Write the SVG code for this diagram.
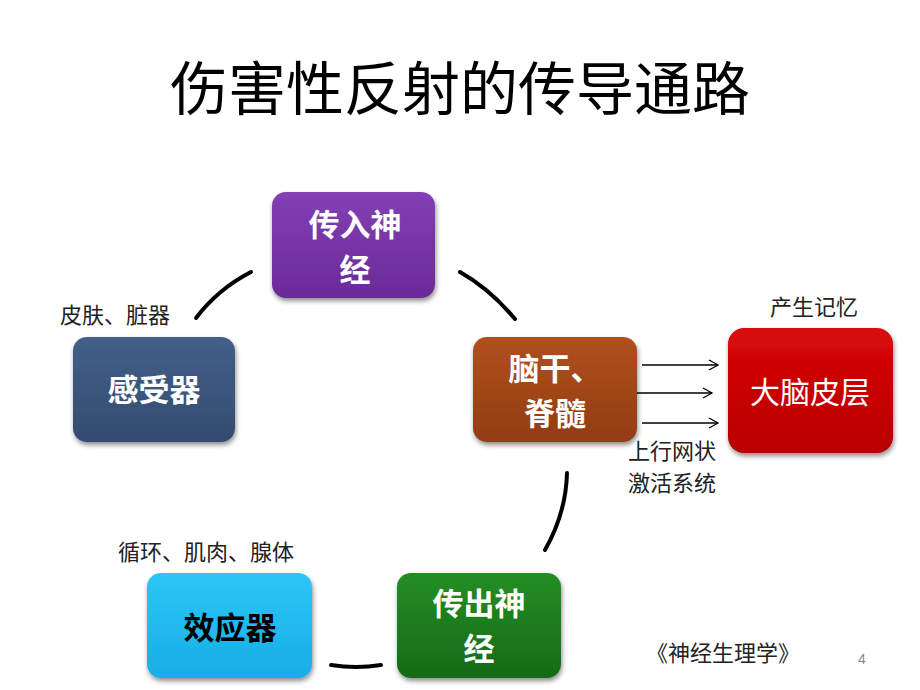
<svg xmlns="http://www.w3.org/2000/svg" width="920" height="690" viewBox="0 0 920 690">
  <defs>
    <style>
      .node-text { font-family: "Noto Sans CJK SC", "Liberation Sans", sans-serif; font-weight: bold; font-size: 31px; text-anchor: middle; fill: #ffffff; }
      .label { font-family: "Noto Sans CJK SC", "Liberation Serif", serif; font-size: 22px; fill: #222222; }
      .arc { fill: none; stroke: #000000; stroke-width: 4; stroke-linecap: round; }
      .arrow { fill: none; stroke: #000000; stroke-width: 1.3; }
      .box { filter: url(#shadow); }
    </style>
    <filter id="shadow" x="-10%" y="-10%" width="125%" height="130%">
      <feGaussianBlur in="SourceAlpha" stdDeviation="2.5"/>
      <feOffset dx="1" dy="3" result="b"/>
      <feComponentTransfer><feFuncA type="linear" slope="0.45"/></feComponentTransfer>
      <feMerge><feMergeNode/><feMergeNode in="SourceGraphic"/></feMerge>
    </filter>
    <linearGradient id="gPurple" x1="0" y1="0" x2="0" y2="1">
      <stop offset="0" stop-color="#8240B4"/><stop offset="1" stop-color="#6A2A98"/>
    </linearGradient>
    <linearGradient id="gBlue" x1="0" y1="0" x2="0" y2="1">
      <stop offset="0" stop-color="#43608A"/><stop offset="1" stop-color="#344B6E"/>
    </linearGradient>
    <linearGradient id="gBrown" x1="0" y1="0" x2="0" y2="1">
      <stop offset="0" stop-color="#B0501E"/><stop offset="1" stop-color="#923C12"/>
    </linearGradient>
    <linearGradient id="gRed" x1="0" y1="0" x2="0" y2="1">
      <stop offset="0" stop-color="#D80808"/><stop offset="1" stop-color="#B80000"/>
    </linearGradient>
    <linearGradient id="gCyan" x1="0" y1="0" x2="0" y2="1">
      <stop offset="0" stop-color="#2CC6F7"/><stop offset="1" stop-color="#18AEE6"/>
    </linearGradient>
    <linearGradient id="gGreen" x1="0" y1="0" x2="0" y2="1">
      <stop offset="0" stop-color="#248E24"/><stop offset="1" stop-color="#176A17"/>
    </linearGradient>
    <marker id="chev" markerWidth="12" markerHeight="12" refX="10" refY="6" orient="auto" markerUnits="userSpaceOnUse">
      <path d="M1,1 L10,6 L1,11" fill="none" stroke="#000" stroke-width="1.3"/>
    </marker>
  </defs>

  <rect width="920" height="690" fill="#ffffff"/>

  <text x="460" y="110" font-family="Noto Sans CJK SC, sans-serif" font-size="58" text-anchor="middle" fill="#000">伤害性反射的传导通路</text>

  <g id="connectors">
    <path class="arc" d="M196,318 Q218,289 251,272"/>
    <path class="arc" d="M460,272 Q490,289 515,319"/>
    <path class="arc" d="M567,473 Q566,513 545,550"/>
    <path class="arc" d="M331,665 Q356,669 381,665"/>
    <line class="arrow" x1="642" y1="365" x2="718" y2="365" marker-end="url(#chev)"/>
    <line class="arrow" x1="637" y1="393" x2="712" y2="393" marker-end="url(#chev)"/>
    <line class="arrow" x1="642" y1="423" x2="718" y2="423" marker-end="url(#chev)"/>
  </g>

  <g id="node-afferent">
    <rect class="box" x="272" y="192" width="163" height="106" rx="14" fill="url(#gPurple)"/>
    <text class="node-text" x="355" y="236">传入神</text>
    <text class="node-text" x="355" y="281">经</text>
  </g>

  <g id="node-receptor">
    <rect class="box" x="73" y="337" width="162" height="105" rx="14" fill="url(#gBlue)"/>
    <text class="node-text" x="154" y="401">感受器</text>
  </g>

  <g id="node-brainstem">
    <rect class="box" x="473" y="337" width="164" height="105" rx="14" fill="url(#gBrown)"/>
    <text class="node-text" x="555" y="380">脑干、</text>
    <text class="node-text" x="555" y="425">脊髓</text>
  </g>

  <g id="node-cortex">
    <rect class="box" x="728" y="328" width="165" height="125" rx="16" fill="url(#gRed)"/>
    <text x="810" y="403" font-family="Noto Sans CJK SC, sans-serif" font-size="30" text-anchor="middle" fill="#ffffff">大脑皮层</text>
  </g>

  <g id="node-effector">
    <rect class="box" x="147" y="573" width="165" height="105" rx="14" fill="url(#gCyan)"/>
    <text class="node-text" x="230" y="639" style="fill:#000000">效应器</text>
  </g>

  <g id="node-efferent">
    <rect class="box" x="397" y="573" width="164" height="105" rx="14" fill="url(#gGreen)"/>
    <text class="node-text" x="479" y="615">传出神</text>
    <text class="node-text" x="479" y="660">经</text>
  </g>

  <g id="labels">
    <text class="label" x="60" y="323">皮肤、脏器</text>
    <text class="label" x="770" y="315">产生记忆</text>
    <text class="label" x="628" y="459">上行网状</text>
    <text class="label" x="628" y="491">激活系统</text>
    <text class="label" x="118" y="560">循环、肌肉、腺体</text>
    <text class="label" x="646" y="661">《神经生理学》</text>
    <text x="858" y="664" font-family="Liberation Sans, sans-serif" font-size="14" fill="#888888">4</text>
  </g>
</svg>
